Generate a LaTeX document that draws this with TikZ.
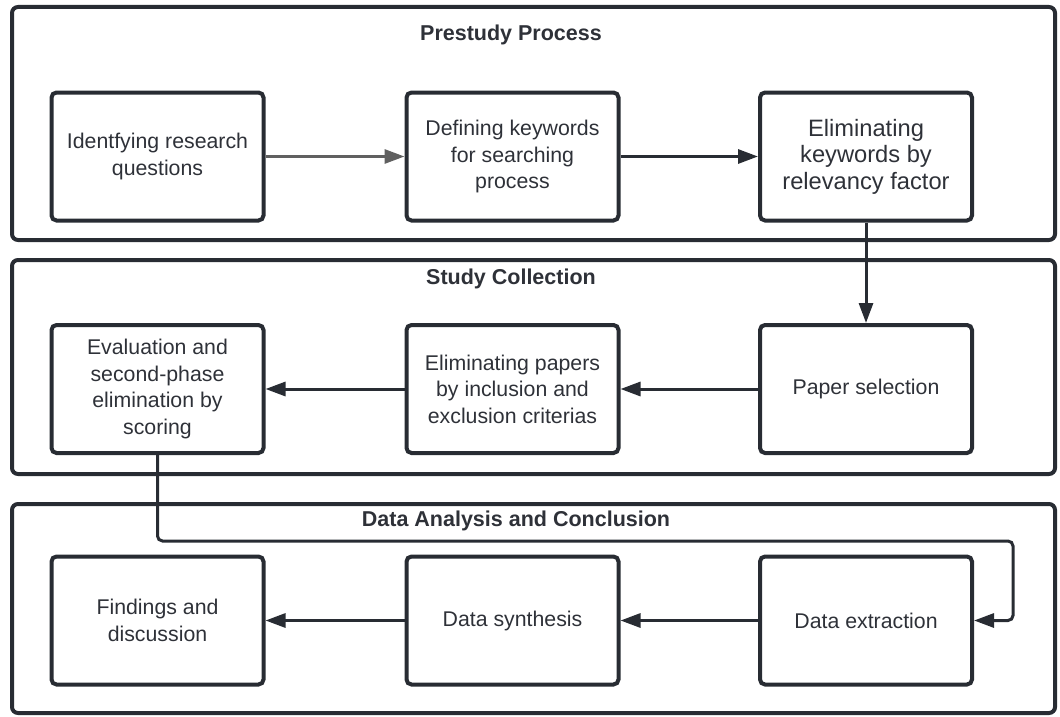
\documentclass[tikz,border=0pt]{standalone}
\usepackage{fontspec}
\setmainfont{Liberation Sans}
\usetikzlibrary{arrows.meta}
\definecolor{ink}{HTML}{282C33}
\definecolor{txt}{HTML}{2E3138}
\definecolor{grayarr}{HTML}{606060}
\tikzset{
  panel/.style={draw=ink, line width=4pt, rounded corners=6pt},
  stepbox/.style={draw=ink, line width=4pt, rounded corners=5pt, minimum width=212pt,
    minimum height=128pt, align=center, text=txt, inner sep=0pt,
    font=\fontsize{21.3}{26.5}\selectfont},
  bigtext/.style={font=\fontsize{23.7}{26.5}\selectfont},
  arr/.style={draw=ink, line width=3pt, -{Triangle[length=20pt,width=14pt]}},
  grayarrow/.style={draw=grayarr, line width=3pt, -{Triangle[length=20pt,width=14pt]}},
  ttl/.style={font=\bfseries\fontsize{21.5}{26}\selectfont, text=txt, anchor=base, inner sep=0pt}
}
\begin{document}
\begin{tikzpicture}[x=1pt,y=-1pt]
\useasboundingbox (0,0) rectangle (1060,717);
% panels
\draw[panel] (12,7) rectangle (1055,240);
\draw[panel] (12,260) rectangle (1055,474);
\draw[panel] (12,504) rectangle (1055,713);
% titles
\node[ttl] (t1) at (511,41) {Prestudy Process};
\node[ttl] (t2) at (511,284) {Study Collection};
\node[ttl] (t3) at (516,526) {Data Analysis and Conclusion};
% row 1
\node[stepbox] (b1) at (157.5,156.5) {Identfying research\\questions};
\node[stepbox] (b2) at (512.5,156.5) {Defining keywords\\for searching\\process};
\node[stepbox, bigtext] (b3) at (866,156.5) {Eliminating\\keywords by\\relevancy factor};
% row 2
\node[stepbox] (b4) at (157.5,389) {Evaluation and\\second-phase\\elimination by\\scoring};
\node[stepbox] (b5) at (512.5,389) {Eliminating papers\\by inclusion and\\exclusion criterias};
\node[stepbox] (b6) at (866,389) {Paper selection};
% row 3
\node[stepbox] (b7) at (157.5,620.5) {Findings and\\discussion};
\node[stepbox] (b8) at (512.5,620.5) {Data synthesis};
\node[stepbox] (b9) at (866,620.5) {Data extraction};
% connectors
\draw[grayarrow] (b1) -- (b2);
\draw[arr] (b2) -- (b3);
\draw[arr] (b3) -- (b6);
\draw[arr] (b6) -- (b5);
\draw[arr] (b5) -- (b4);
\coordinate (c1) at (157.5,541);
\coordinate (c2) at (1013,541);
\coordinate (c3) at (1013,620.5);
\draw[arr, rounded corners=5pt] (b4.south) -- (c1) -- (c2) -- (c3) -- (b9.east);
\draw[arr] (b9) -- (b8);
\draw[arr] (b8) -- (b7);
\end{tikzpicture}
\end{document}
